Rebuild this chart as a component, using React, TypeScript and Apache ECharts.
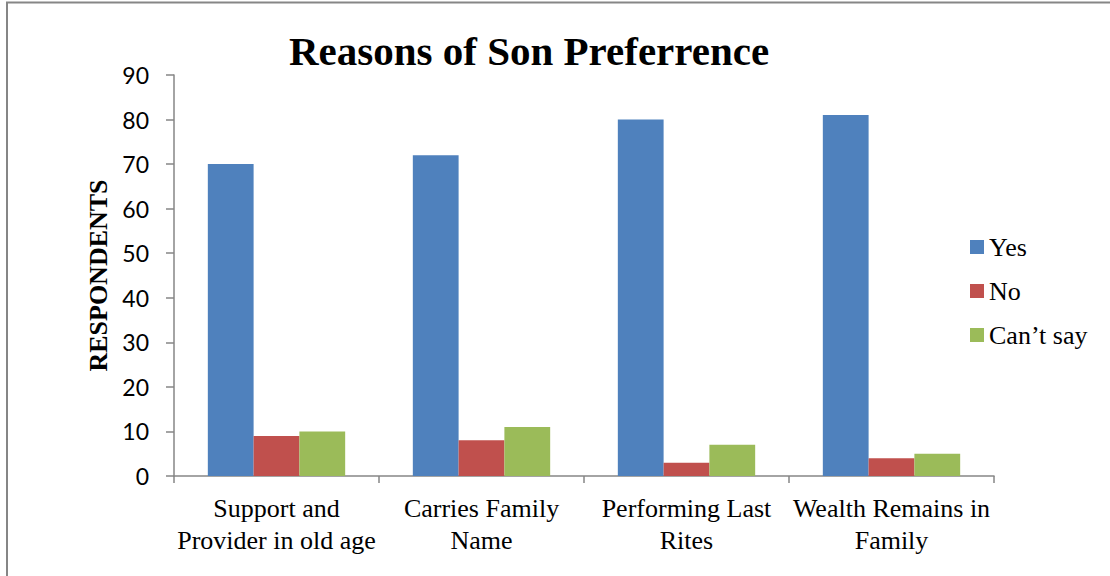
import React, { useEffect, useRef } from "react";
import * as echarts from "echarts";

const categories = [
  "Support and\nProvider in old age",
  "Carries Family\nName",
  "Performing Last\nRites",
  "Wealth Remains in\nFamily",
];
const yesValues = [70, 72, 80, 81];
const noValues = [9, 8, 3, 4];
const cantSayValues = [10, 11, 7, 5];
const yTicks = { min: 0, max: 90, interval: 10 };

const serif = "'Liberation Serif', 'Times New Roman', serif";
const sans = "Lato, 'Noto Sans', sans-serif";
const axisGray = "#868686";

export default function App() {
  const ref = useRef<HTMLDivElement>(null);
  useEffect(() => {
    if (!ref.current) return;
    const chart = echarts.init(ref.current, undefined, { renderer: "svg" });
    chart.setOption({
      animation: false,
      backgroundColor: "#ffffff",
      title: {
        text: "Reasons of Son Preferrence",
        left: 284,
        top: 25,
        textStyle: { fontFamily: serif, fontWeight: "bold", fontSize: 41, color: "#000" },
      },
      graphic: [
        {
          type: "rect",
          shape: { x: 7, y: 2.5, width: 1200, height: 700 },
          style: { fill: "none", stroke: axisGray, lineWidth: 2 },
          silent: true,
        },
      ],
      legend: {
        orient: "vertical",
        left: 965,
        top: 229,
        itemWidth: 14,
        itemHeight: 14,
        itemGap: 18,
        icon: "rect",
        textStyle: { fontFamily: serif, fontSize: 26, color: "#000" },
        data: ["Yes", "No", "Can\u2019t say"],
      },
      grid: { left: 174, right: 1110 - 994, top: 75, bottom: 576 - 476, containLabel: false },
      xAxis: {
        type: "category",
        data: categories,
        boundaryGap: true,
        axisLine: { lineStyle: { color: axisGray, width: 1.5 } },
        axisTick: { show: true, length: 7, alignWithLabel: false, lineStyle: { color: axisGray, width: 1.5 } },
        axisLabel: {
          interval: 0,
          margin: 16,
          fontFamily: serif,
          fontSize: 26,
          lineHeight: 32,
          color: "#000",
        },
      },
      yAxis: {
        type: "value",
        min: yTicks.min,
        max: yTicks.max,
        interval: yTicks.interval,
        name: "RESPONDENTS",
        nameLocation: "middle",
        nameGap: 63,
        nameTextStyle: { fontFamily: serif, fontWeight: "bold", fontSize: 26, color: "#000" },
        splitLine: { show: false },
        axisLine: { show: true, lineStyle: { color: axisGray, width: 1.5 } },
        axisTick: { show: true, length: 8, lineStyle: { color: axisGray, width: 1.5 } },
        axisLabel: { margin: 25, fontFamily: sans, fontSize: 23, color: "#000" },
      },
      series: [
        { name: "Yes", type: "bar", data: yesValues, barGap: "0%", barCategoryGap: "33%", itemStyle: { color: "#4F81BD" } },
        { name: "No", type: "bar", data: noValues, barGap: "0%", barCategoryGap: "33%", itemStyle: { color: "#C0504D" } },
        { name: "Can\u2019t say", type: "bar", data: cantSayValues, barGap: "0%", barCategoryGap: "33%", itemStyle: { color: "#9BBB59" } },
      ],
    });
    return () => chart.dispose();
  }, []);
  return (
    <div
      ref={ref}
      style={{ position: "fixed", left: 0, top: 0, width: 1110, height: 576 }}
    />
  );
}
